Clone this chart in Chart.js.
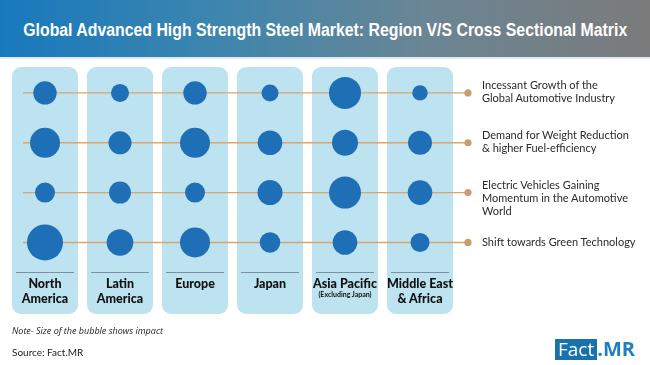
<!DOCTYPE html>
<html>
<head>
<meta charset="utf-8">
<script src="https://cdn.jsdelivr.net/npm/chart.js@4.4.1/dist/chart.umd.min.js"></script>
<style>
  html, body { margin: 0; padding: 0; background: #ffffff; }
  #wrap { position: relative; width: 650px; height: 365px; overflow: hidden; background: #fff; }
  #header { position: absolute; left: 0; top: 0; width: 650px; height: 57px;
    background: linear-gradient(to right, #1779bd 0%, #3f86ad 35%, #6a8594 65%, #7b7b7b 100%);
    border-bottom: 2px solid #dfe9ef; }
  #title { position: absolute; left: 0; top: 19px; width: 650px; height: 22px; display: flex; justify-content: center; white-space: nowrap; }
  #title span { display: inline-block; color: #fff; font-family: "Liberation Sans Narrow", "Liberation Sans", sans-serif;
    font-weight: bold; font-size: 18px; line-height: 22px; transform-origin: center center; flex: none; }
  #chart { position: absolute; left: 0; top: 0; }
  .col { position: absolute; width: 66px; text-align: center; font-family: Lato, sans-serif; font-weight: 900;
    font-size: 12.5px; line-height: 15px; color: #111; top: 276px; white-space: nowrap; }
  .col small { display: block; font-size: 7px; line-height: 8px; font-weight: bold; margin-top: -1px; }
  .drv { position: absolute; left: 482px; font-family: Lato, sans-serif; font-size: 11px; line-height: 13px; color: #2a2a2a; }
  #note { position: absolute; left: 12px; top: 324px; font-family: "Open Sans", sans-serif; font-style: italic; font-size: 9px; line-height: 13px; color: #222; }
  #source { position: absolute; left: 12px; top: 346px; font-family: Lato, sans-serif; font-size: 10px; line-height: 13px; color: #222; }
  #logo { position: absolute; left: 555px; top: 338px; height: 21px; font-family: "Open Sans", sans-serif; font-size: 19px; line-height: 21px; white-space: nowrap; }
  #logo .f { display: inline-block; background: #1a72ad; color: #fff; padding: 0 3px 0 3px; height: 21px; }
  #logo .m { color: #1f7fc0; font-weight: bold; font-size: 20px; }
</style>
</head>
<body>
<div id="wrap">
  <div id="header"></div>
  <div id="title"><span id="tspan">Global Advanced High Strength Steel Market: Region V/S Cross Sectional Matrix</span></div>
  <canvas id="chart" width="650" height="365"></canvas>
  <div id="labels"></div>
  <div id="note">Note- Size of the bubble shows impact</div>
  <div id="source">Source: Fact.MR</div>
  <div id="logo"><span class="f">Fact</span><span class="m">.MR</span></div>
</div>
<script>
// ---- data ----
const regions = ["North America", "Latin America", "Europe", "Japan", "Asia Pacific", "Middle East & Africa"];
const regionLines = [["North", "America"], ["Latin", "America"], ["Europe"], ["Japan"], ["Asia Pacific"], ["Middle East", "& Africa"]];
const regionNotes = ["", "", "", "", "(Excluding Japan)", ""];
const drivers = [
  ["Incessant Growth of the", "Global Automotive Industry"],
  ["Demand for Weight Reduction", "& higher Fuel-efficiency"],
  ["Electric Vehicles Gaining", "Momentum in the Automotive", "World"],
  ["Shift towards Green Technology"]
];
// impact (bubble radius) per driver row, across regions
const impactGrowth     = [11.7, 9.0, 11.7, 8.5, 16.0, 7.7];
const impactWeight     = [15.0, 11.5, 15.0, 12.3, 13.0, 12.0];
const impactEV         = [10.0, 11.0, 10.0, 12.5, 16.0, 12.3];
const impactGreen      = [18.0, 13.3, 15.0, 10.3, 12.3, 9.5];
const impactRows = [impactGrowth, impactWeight, impactEV, impactGreen];

// ---- build bubble data ----
const bubbleData = [];
impactRows.forEach((row, ri) => row.forEach((r, ci) => bubbleData.push({ x: ci, y: ri, r: r })));

const panelPlugin = {
  id: 'panels',
  beforeDatasetsDraw(chart) {
    const { ctx, chartArea, scales } = chart;
    const xs = scales.x, ys = scales.y;
    ctx.save();
    regions.forEach((_, i) => {
      const cx = xs.getPixelForValue(i);
      const w = 66, x0 = cx - w / 2;
      ctx.fillStyle = '#bde2f0';
      ctx.beginPath();
      ctx.roundRect(x0, chartArea.top, w, chartArea.bottom - chartArea.top, 9);
      ctx.fill();
      ctx.strokeStyle = '#7b90a0';
      ctx.lineWidth = 1;
      ctx.beginPath();
      const sy = Math.round(ys.getPixelForValue(3.6)) + 0.5;
      ctx.moveTo(cx - 29, sy);
      ctx.lineTo(cx + 29, sy);
      ctx.stroke();
    });
    const x0 = xs.getPixelForValue(0) - 22;
    const x1 = xs.getPixelForValue(regions.length - 1) + 48;
    drivers.forEach((_, ri) => {
      const y = ys.getPixelForValue(ri);
      ctx.strokeStyle = '#dba56e';
      ctx.lineWidth = 1.4;
      ctx.beginPath();
      ctx.moveTo(x0, y);
      ctx.lineTo(x1, y);
      ctx.stroke();
      ctx.fillStyle = '#c99d70';
      ctx.beginPath();
      ctx.arc(x1, y, 3.6, 0, Math.PI * 2);
      ctx.fill();
    });
    ctx.restore();
  }
};

const chart = new Chart(document.getElementById('chart'), {
  type: 'bubble',
  data: { datasets: [{ data: bubbleData, backgroundColor: '#1e6fb6', borderColor: '#1e6fb6', borderWidth: 0 }] },
  options: {
    responsive: false, animation: false, events: [],
    layout: { autoPadding: false, padding: { left: 7.5, right: 12.5, top: 67, bottom: 51 } },
    plugins: { legend: { display: false }, tooltip: { enabled: false } },
    scales: {
      x: { type: 'linear', min: -0.5, max: 7.9, display: false },
      y: { type: 'linear', reverse: true, min: -0.52, max: 4.435, display: false }
    }
  },
  plugins: [panelPlugin]
});

// ---- HTML text labels positioned from scales ----
const labels = document.getElementById('labels');
regions.forEach((name, i) => {
  const cx = chart.scales.x.getPixelForValue(i);
  const d = document.createElement('div');
  d.className = 'col';
  d.style.left = (cx - 33) + 'px';
  d.innerHTML = regionLines[i].join('<br>') + (regionNotes[i] ? '<small>' + regionNotes[i] + '</small>' : '');
  labels.appendChild(d);
});
drivers.forEach((lines, ri) => {
  const y = chart.scales.y.getPixelForValue(ri);
  const d = document.createElement('div');
  d.className = 'drv';
  d.style.top = (y - (lines.length === 1 ? 7 : 15)) + 'px';
  d.innerHTML = lines.join('<br>');
  labels.appendChild(d);
});

function fitTitle() {
  const ts = document.getElementById('tspan');
  ts.style.transform = 'none';
  const w = ts.getBoundingClientRect().width;
  ts.style.transform = 'scaleX(' + (604 / w) + ')';
}
fitTitle();
if (document.fonts && document.fonts.ready) document.fonts.ready.then(fitTitle);
</script>
</body>
</html>
